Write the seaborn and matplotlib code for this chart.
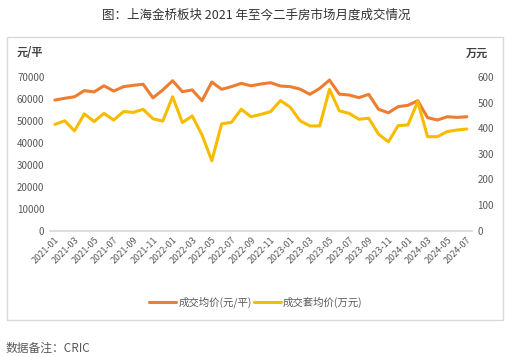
import numpy as np
import pandas as pd
import matplotlib
matplotlib.use('Agg')
import matplotlib.pyplot as plt
import seaborn as sns
from matplotlib.patches import Rectangle
from matplotlib.lines import Line2D

# monthly data, 2021-01 .. 2024-07
months = pd.period_range('2021-01', '2024-07', freq='M').strftime('%Y-%m').tolist()
avg_price = [59500, 60300, 61000, 63800, 63200, 66000, 63600, 65600, 66200, 66700,
             60500, 64100, 68300, 63300, 64100, 59200, 67700, 64400, 65600, 67100,
             66000, 66800, 67400, 65900, 65600, 64500, 62100, 64800, 68600, 62200,
             61800, 60600, 62100, 55300, 53700, 56500, 57100, 59200, 51500, 50400,
             51900, 51600, 51900]
avg_total = [415, 429, 390, 456, 426, 458, 432, 465, 462, 474,
             437, 428, 523, 422, 448, 374, 273, 417, 423, 474,
             445, 454, 465, 508, 482, 429, 409, 409, 552, 468,
             458, 435, 439, 377, 347, 410, 413, 504, 367, 367,
             387, 393, 397]

df = pd.DataFrame({'month': months, 'idx': range(len(months)),
                   'price': avg_price, 'total': avg_total})

sns.set_theme(style='white')
plt.rcParams['font.family'] = ['Noto Sans CJK SC', 'DejaVu Sans']
plt.rcParams['axes.unicode_minus'] = False

c_orange = '#ED7D31'
c_yellow = '#F7BC00'
c_text = '#595959'

fig = plt.figure(figsize=(5.12, 3.57), dpi=100)
ax = fig.add_axes([50/512, 1-230.7/357, 421.7/512, 153.7/357])
ax2 = ax.twinx()

sns.lineplot(data=df, x='idx', y='price', ax=ax, color=c_orange, linewidth=2.2)
sns.lineplot(data=df, x='idx', y='total', ax=ax2, color=c_yellow, linewidth=2.2)

ax.set_xlim(-0.5, len(months) - 0.5)
ax.set_ylim(0, 70000)
ax2.set_ylim(0, 600)
ax.set_yticks(range(0, 70001, 10000))
ax2.set_yticks(range(0, 601, 100))
ax.set_xticks(df['idx'][::2])
ax.set_xticklabels(df['month'][::2], rotation=45, ha='right', rotation_mode='anchor')

for a in (ax, ax2):
    a.set_xlabel('')
    a.set_ylabel('')
    for s in a.spines.values():
        s.set_visible(False)
    a.tick_params(length=0, labelsize=7, colors=c_text, pad=4)
ax.spines['bottom'].set_visible(True)
ax.spines['bottom'].set_color('#D9D9D9')
ax.tick_params(axis='x', labelsize=6.5, pad=3)

# chart frame
fig.patches.append(Rectangle((7/512, 1-320/357), 496/512, 283/357, transform=fig.transFigure,
                             fill=False, edgecolor='#D9D9D9', linewidth=1))

fig.text(0.5, 1-15/357, '图：上海金桥板块 2021 年至今二手房市场月度成交情况',
         ha='center', va='center', fontsize=9, color='#333333')
fig.text(17/512, 1-53/357, '元/平', ha='left', va='center', fontsize=8, color='#404040', fontweight='bold')
fig.text(488/512, 1-53/357, '万元', ha='right', va='center', fontsize=8, color='#404040', fontweight='bold')
fig.text(6/512, 1-348/357, '数据备注：CRIC', ha='left', va='center', fontsize=8.5, color=c_text)

handles = [Line2D([], [], color=c_orange, linewidth=2.2),
           Line2D([], [], color=c_yellow, linewidth=2.2)]
fig.legend(handles, ['成交均价(元/平)', '成交套均价(万元)'], loc='center',
           bbox_to_anchor=(0.5, 1-302.7/357), ncol=2, frameon=False, fontsize=7.5,
           labelcolor=c_text, handlelength=2.6, handletextpad=0.2, columnspacing=0.2)

fig.savefig('out.png', dpi=100)
